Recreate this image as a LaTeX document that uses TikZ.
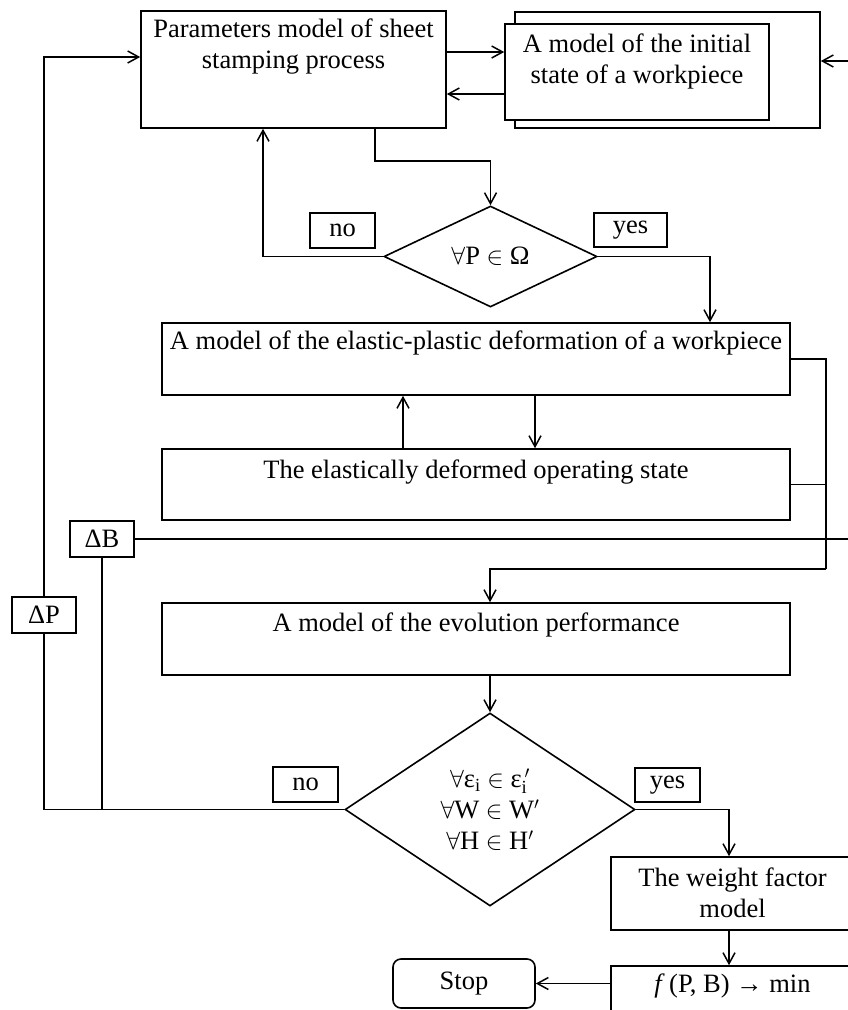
\documentclass[tikz,border=0pt]{standalone}
\usepackage{fontspec}
\setmainfont{Liberation Serif}
\usetikzlibrary{arrows.meta,shapes.geometric}
\begin{document}
\begin{tikzpicture}[x=1pt,y=-1pt,
  every node/.style={font=\fontsize{26.5}{31}\selectfont},
  box/.style={draw,line width=1.6pt,fill=white,inner sep=0pt},
  tag/.style={draw,line width=1.6pt,inner sep=0pt},
  dia/.style={draw,diamond,line width=1.6pt,inner sep=0pt,align=center},
  txt/.style={align=center,inner sep=0pt,anchor=north},
  ln/.style={line width=1.4pt},
  arr/.style={line width=1.4pt,-{Straight Barb[length=11pt,width=12pt,line width=1.5pt]}}]
\path[use as bounding box,clip] (0,0) rectangle (848,1010);
% boxes
\node[box,minimum width=305pt,minimum height=117pt,
  label={[txt,yshift=-8pt]north:Parameters model of sheet\\stamping process}] (params) at (293.5,69.5) {};
\node[box,minimum width=305pt,minimum height=116pt] (ib) at (667.5,70) {};
\node[box,minimum width=264pt,minimum height=96pt,
  label={[txt,yshift=-10pt]north:A model of the initial\\state of a workpiece}] (ifr) at (637,72) {};
\node[dia,minimum width=213pt,minimum height=101pt,aspect=2] (d1) at (490.5,256.5) {$\forall$P $\in$ Ω};
\node[box,minimum width=628pt,minimum height=72pt,
  label={[txt,yshift=-8pt]north:A model of the elastic-plastic deformation of a workpiece}] (ep) at (476,359) {};
\node[box,minimum width=628pt,minimum height=71pt,
  label={[txt,yshift=-11pt]north:The elastically deformed operating state}] (def) at (476,484.5) {};
\node[box,minimum width=628pt,minimum height=72pt,
  label={[txt,yshift=-10pt]north:A model of the evolution performance}] (ev) at (476,639) {};
\node[dia,minimum width=290pt,minimum height=193pt,aspect=1.5] (d2) at (490,809.5)
  {$\forall$ε$_{\mathrm{i}}$ $\in$ ε$_{\mathrm{i}}^{\,\prime}$\\$\forall$W $\in$ W$^{\prime}$\\$\forall$H $\in$ H$^{\prime}$};
\node[box,minimum width=243pt,minimum height=73pt,
  label={[txt,yshift=-11pt]north:The weight factor\\model}] (wt) at (732.5,893.5) {};
\node[box,minimum width=243pt,minimum height=74pt,
  label={[txt,yshift=-8pt]north:\textit{f}\,(P, B) → min}] (fb) at (732.5,1003) {};
\node[box,rounded corners=8pt,minimum width=142pt,minimum height=49pt] (stop) at (464,983.5) {Stop};
% tags
\node[tag,minimum width=65pt,minimum height=35pt] (no1) at (342.5,230.5) {no};
\node[tag,minimum width=73pt,minimum height=34pt] (yes1) at (630.5,230) {yes};
\node[tag,minimum width=65pt,minimum height=35pt] (no2) at (305.5,784.5) {no};
\node[tag,minimum width=65pt,minimum height=34pt] (yes2) at (667.5,785) {yes};
\node[tag,minimum width=64pt,minimum height=36pt] (dB) at (102,539) {ΔB};
\node[tag,minimum width=64pt,minimum height=36pt] (dP) at (44,615) {ΔP};
% helper coordinates
\coordinate (pk) at (375,161);
\coordinate (noup) at (263,0);
\coordinate (yesx) at (710,0);
\coordinate (upx) at (403,0);
\coordinate (dnx) at (535,0);
\coordinate (bus) at (826,569);
\coordinate (wx) at (729,0);
\coordinate (pin) at (0,57);
\coordinate (pa) at (0,52);
\coordinate (pb) at (0,94);
\coordinate (rr) at (862,0);
\coordinate (inY) at (0,61);
% connectors
\draw[arr] (params.east |- pa) -- (ifr.west |- pa);
\draw[arr] (ifr.west |- pb) -- (params.east |- pb);
\draw[arr] (params.south -| pk) -- (pk) -| (d1.north);
\draw[arr] (d1.west) -| (params.south -| noup);
\draw[arr] (d1.east) -| (ep.north -| yesx);
\draw[arr] (def.north -| upx) -- (ep.south -| upx);
\draw[arr] (ep.south -| dnx) -- (def.north -| dnx);
\draw[ln] (ep.east) -| (bus);
\draw[ln] (def.east) -- (def.east -| bus);
\draw[arr] (bus) -| (ev.north -| d2.north);
\draw[arr] (ev.south -| d2.north) -- (d2.north);
\draw[arr] (d2.east) -| (wt.north -| wx);
\draw[arr] (wt.south -| wx) -- (fb.north -| wx);
\draw[arr] (fb.west |- stop.east) -- (stop.east);
\draw[ln] (d2.west) -| (dP.south);
\draw[arr] (dP.north) |- (params.west |- pin);
\draw[ln] (dB.south) -- (dB.south |- d2.west);
\draw[arr] (dB.east) -- (dB.east -| rr) |- (ib.east |- inY);
\end{tikzpicture}
\end{document}
